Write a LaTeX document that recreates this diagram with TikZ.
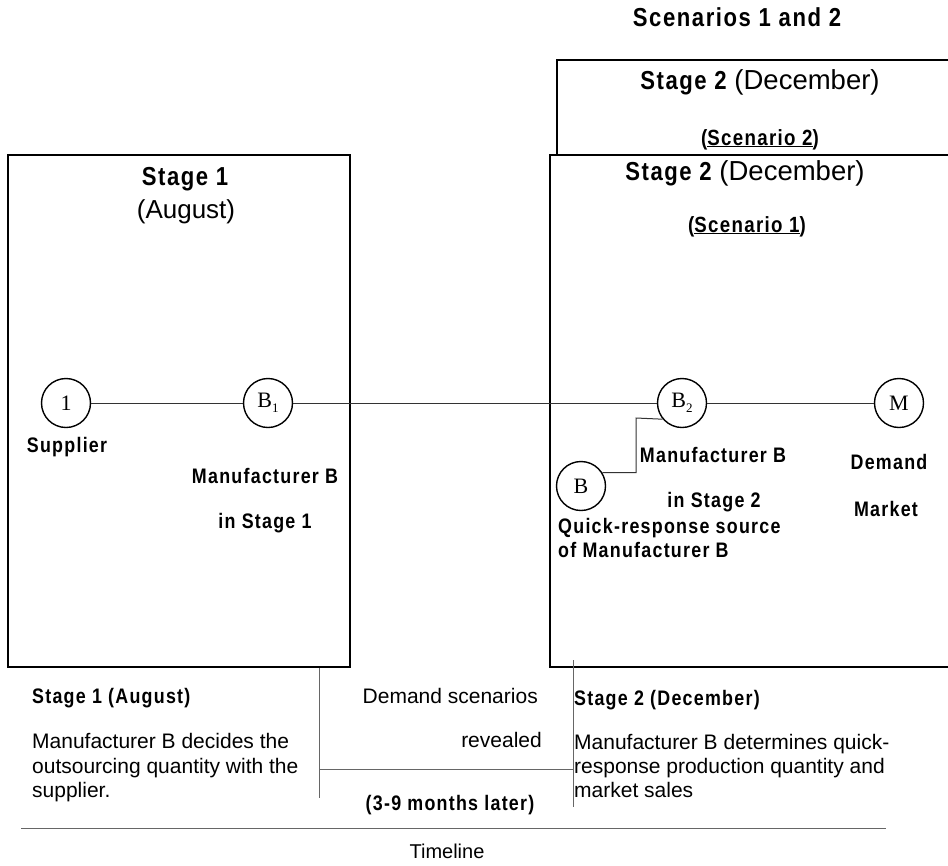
\documentclass[tikz,border=0pt]{standalone}
\usepackage{fontspec}
\setmainfont{Liberation Sans}
\newfontfamily\cnd{Liberation Sans}[FakeStretch=0.85,LetterSpace=6]
\newfontfamily\srf{Liberation Serif}
\newcommand\subn[1]{\raisebox{-0.45ex}{\fontsize{13}{13}\selectfont #1}}
\newcommand\stagehead[1]{{\cnd\bfseries\fontsize{26}{30}\selectfont Stage #1\ }{\fontsize{27.5}{30}\selectfont(December)}}
\begin{document}
\begin{tikzpicture}[x=1pt,y=-1pt,
  box/.style={draw=black,line width=1.8pt},
  conn/.style={draw=black!80,line width=1pt},
  tl/.style={draw=black!60,line width=0.9pt},
  circ/.style={circle,draw=black,line width=1.4pt,minimum size=49pt,inner sep=0pt,font=\srf\fontsize{22}{24}\selectfont},
  hb/.style={anchor=base,inner sep=0pt,font=\cnd\bfseries\fontsize{26}{30}\selectfont},
  hr/.style={anchor=base,inner sep=0pt,font=\fontsize{26}{30}\selectfont},
  lb/.style={anchor=base,inner sep=0pt,font=\cnd\bfseries\fontsize{21}{24}\selectfont},
  lbw/.style={anchor=base west,inner sep=0pt,font=\cnd\bfseries\fontsize{21}{24}\selectfont},
  body/.style={anchor=base west,inner sep=0pt,font=\fontsize{21}{24}\selectfont},
  bodye/.style={anchor=base east,inner sep=0pt,font=\fontsize{21}{24}\selectfont},
]
\useasboundingbox (0,0) rectangle (948,865);
\clip (0,0) rectangle (948,865);
\fill[white] (0,0) rectangle (948,865);

% boxes
\draw[box] (557,60) rectangle (970,155);
\draw[box,fill=white] (550,155) rectangle (970,667);
\draw[box] (8,155) rectangle (350,667);

% titles
\node[hb] (title) at (737,26) {Scenarios 1 and 2};
\node[anchor=base,inner sep=0pt] (s2t) at (760,89) {\stagehead{2}};
\node[anchor=base,inner sep=0pt,font=\cnd\bfseries\fontsize{22}{26}\selectfont] (s2s) at (760,145) {(\underline{Scenario 2})};
\node[anchor=base,inner sep=0pt] (s1t) at (745,180) {\stagehead{2}};
\node[anchor=base,inner sep=0pt,font=\cnd\bfseries\fontsize{22}{26}\selectfont] (s1s) at (747,232) {(\underline{Scenario 1})};
\node[hb] (st1) at (185,185) {Stage 1};
\node[hr] (aug) at (186,218) {(August)};

% circles
\node[circ] (n1) at (66,403) {1};
\node[circ] (B1) at (268,403) {B\subn{1}};
\node[circ] (B2) at (682,403) {B\subn{2}};
\node[circ] (M) at (899,403) {M};
\node[circ] (B) at (581,486) {B};
\coordinate (e2) at (636,418);

\draw[conn] (n1) -- (B1);
\draw[conn] (B1) -- (B2);
\draw[conn] (B2) -- (M);
\draw[conn] (B.32) -| (e2) -- (B2.220);

% node labels
\node[lb] (sup) at (67,452) {Supplier};
\node[lb] (mb1) at (265,483) {Manufacturer B};
\node[lb] (is1) at (265,528) {in Stage 1};
\node[lb] (mb2) at (713,462) {Manufacturer B};
\node[lb] (is2) at (714,507) {in Stage 2};
\node[lb] (dem) at (889,469) {Demand};
\node[lb] (mkt) at (886,516) {Market};
\node[lbw] (qr1) at (558,533) {Quick-response source};
\node[lbw] (qr2) at (558,557) {of Manufacturer B};

% bottom timeline area
\draw[tl] (319,668) -- (319,798);
\draw[tl] (573,660) -- (573,807);
\draw[tl] (319,769) -- (573,769);
\draw[tl] (21,828) -- (886,828);

\node[lbw] (b1h) at (32,703) {Stage 1 (August)};
\node[body] (b1a) at (32,748) {Manufacturer B decides the};
\node[body] (b1b) at (32,773) {outsourcing quantity with the};
\node[body] (b1c) at (32,797) {supplier.};

\node[bodye] (dsa) at (538,703) {Demand scenarios};
\node[bodye] (dsb) at (542,747) {revealed};
\node[lb] (mon) at (450,810) {(3-9 months later)};

\node[lbw] (b2h) at (574,705) {Stage 2 (December)};
\node[body] (b2a) at (574,749) {Manufacturer B determines quick-};
\node[body] (b2b) at (574,773) {response production quantity and};
\node[body] (b2c) at (574,797) {market sales};

\node[anchor=base,inner sep=0pt,font=\fontsize{20}{24}\selectfont] (tml) at (447,858) {Timeline};
\end{tikzpicture}
\end{document}
